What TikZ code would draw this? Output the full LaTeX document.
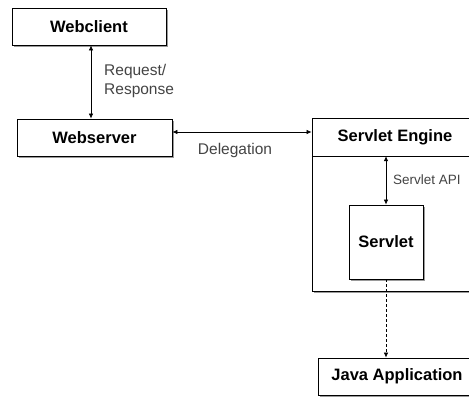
\documentclass[tikz,border=0pt]{standalone}
\usepackage{fontspec}
\setmainfont{Liberation Sans}
\usetikzlibrary{arrows.meta,shadows}
\definecolor{lbl}{HTML}{444444}
\definecolor{shd}{HTML}{9A9A9A}
\begin{document}
\begin{tikzpicture}[x=1pt,y=1pt,
  box/.style={draw=black,line width=0.8pt,fill=white,inner sep=0pt,
    font=\fontsize{16.5}{19}\selectfont\bfseries,
    drop shadow={shadow xshift=2pt,shadow yshift=-2pt,fill=shd,opacity=1}},
  arr/.style={line width=0.7pt,{Latex[length=5pt,width=4.5pt]}-{Latex[length=5pt,width=4.5pt]}},
  darr/.style={line width=0.7pt,dashed,dash pattern=on 3pt off 2pt,-{Latex[length=5pt,width=4.5pt]}},
  lab/.style={text=lbl,inner sep=0pt,font=\fontsize{15.5}{19}\selectfont,align=left}
]
\useasboundingbox (0,0) rectangle (469,-397);
\fill[white] (0,0) rectangle (469,-397);
% boxes
\node[box,minimum width=154,minimum height=37] (wc) at (89,-26.5) {Webclient};
\node[box,minimum width=155,minimum height=37] (ws) at (94.5,-137.5) {Webserver};
\node[box,minimum width=166,minimum height=173] (eng) at (395,-204.5) {};
\node[draw=none,inner sep=0pt,minimum width=166,minimum height=38,
  font=\fontsize{16.5}{19}\selectfont\bfseries] (hdr) at (395,-137) {Servlet Engine};
\draw[line width=0.8pt] (hdr.south west) -- (hdr.south east);
\node[box,minimum width=74,minimum height=74] (sv) at (386,-242) {Servlet};
\node[box,minimum width=158,minimum height=37] (ja) at (397,-376.5) {Java Application};
% connectors
\draw[arr] ([xshift=2pt]wc.south) -- ([xshift=2pt]wc.south |- ws.north);
\draw[arr] ([yshift=5.5pt]ws.east) -- ([yshift=5.5pt]ws.east -| eng.west);
\draw[arr] (sv.north |- hdr.south) -- (sv.north);
\draw[darr] (sv.south) -- (sv.south |- ja.north);
% labels
\node[lab,anchor=west] (l1) at (104,-80.5) {Request/\\Response};
\node[lab] (l2) at (235,-150) {Delegation};
\node[lab,anchor=west,font=\fontsize{13.5}{16}\selectfont] (l3) at (393,-180) {Servlet API};
\end{tikzpicture}
\end{document}
